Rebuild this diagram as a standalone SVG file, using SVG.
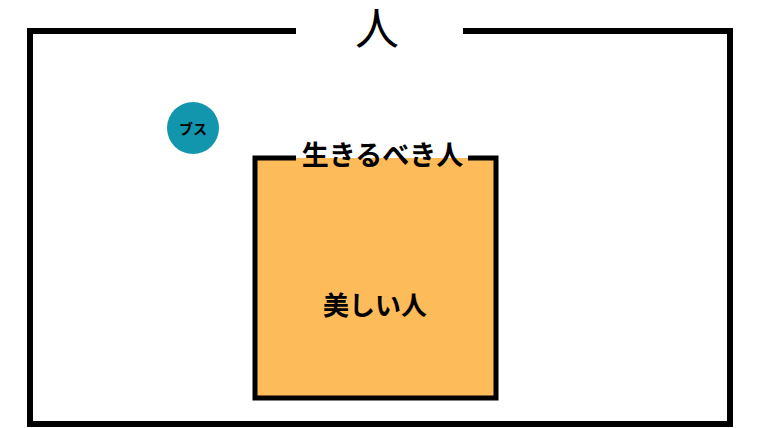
<svg xmlns="http://www.w3.org/2000/svg" width="760" height="428" viewBox="0 0 760 428">
  <style>
    .frame { fill: none; stroke: #000; stroke-linejoin: miter; stroke-linecap: butt; }
    .jp { font-family: "Noto Sans CJK JP", "Noto Sans", sans-serif; text-anchor: middle; fill: #000; }
    .bold { font-weight: bold; }
  </style>
  <rect x="0" y="0" width="760" height="428" fill="#fff"/>
  <g id="node-hito">
    <path class="frame" stroke-width="6" d="M296,31 H30 V424 H730 V31 H463"/>
    <text class="jp" x="377" y="45" font-size="44">人</text>
  </g>
  <g id="node-ikirubeki">
    <rect x="255" y="158" width="241" height="240" fill="#FDBB5A"/>
    <path class="frame" stroke-width="5" d="M296,158 H255 V398 H496 V158 H468"/>
    <text class="jp bold" x="382.5" y="165" font-size="27">生きるべき人</text>
  </g>
  <g id="node-utsukushii">
    <text class="jp bold" x="375" y="315" font-size="26">美しい人</text>
  </g>
  <g id="node-busu">
    <circle cx="193" cy="128" r="26" fill="#1296AE"/>
    <text class="jp bold" x="193" y="134" font-size="14">ブス</text>
  </g>
  <g id="connectors"/>
</svg>
